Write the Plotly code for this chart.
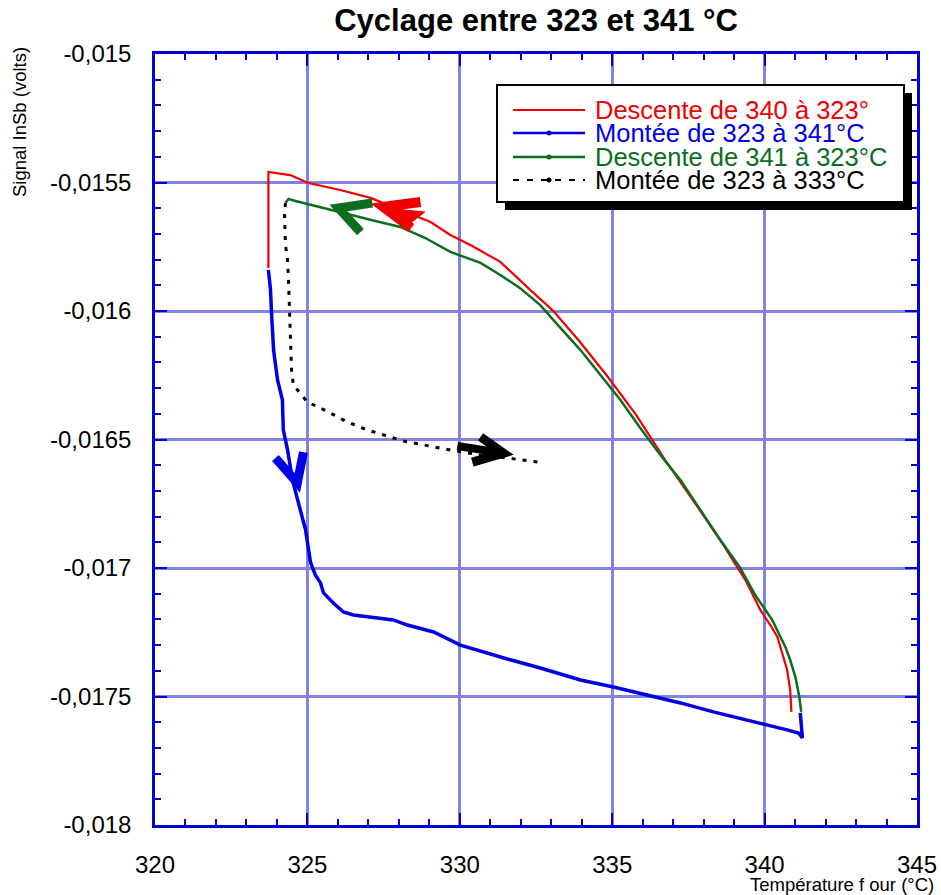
import plotly.graph_objects as go

# --- data: furnace temperature (°C) and InSb signal (V) ---
red_T = [340.88, 340.84, 340.74, 340.58, 340.42, 340.19, 339.86, 339.37, 338.65, 337.76,
         336.74, 335.79, 334.81, 333.89, 333.07, 332.31, 331.33, 330.35, 329.69, 329.04,
         328.05, 327.07, 326.08, 325.03, 324.44, 323.72, 323.72]
red_V = [-0.017560, -0.017475, -0.017397, -0.017331, -0.017268, -0.017222, -0.017163, -0.017047,
         -0.016911, -0.016755, -0.016580, -0.016405, -0.016249, -0.016113, -0.016000, -0.015918,
         -0.015809, -0.015743, -0.015704, -0.015654, -0.015607, -0.015560, -0.015529, -0.015502,
         -0.015471, -0.015459, -0.015833]

blue_T = [323.72, 323.79, 323.82, 323.89, 324.02, 324.18, 324.21, 324.35, 324.51, 324.67,
          324.77, 324.94, 325.10, 325.26, 325.43, 325.53, 325.85, 326.18, 326.51, 327.40,
          327.82, 328.28, 329.14, 330.02, 330.77, 331.56, 332.64, 333.96, 335.04, 336.15,
          337.24, 338.32, 339.43, 340.09, 340.74, 341.11, 341.24, 341.17]
blue_V = [-0.015840, -0.015918, -0.016000, -0.016152, -0.016268, -0.016346, -0.016463, -0.016541,
          -0.016658, -0.016735, -0.016774, -0.016852, -0.016977, -0.017027, -0.017058, -0.017097,
          -0.017136, -0.017171, -0.017183, -0.017195, -0.017202, -0.017222, -0.017249, -0.017300,
          -0.017327, -0.017354, -0.017389, -0.017436, -0.017463, -0.017494, -0.017525, -0.017560,
          -0.017591, -0.017611, -0.017630, -0.017642, -0.017661, -0.017564]

green_T = [341.20, 341.14, 341.01, 340.84, 340.68, 340.42, 340.25, 339.69, 339.20, 338.55,
           337.89, 337.24, 336.58, 335.92, 335.27, 334.61, 333.96, 333.30, 332.64, 331.98,
           331.33, 330.68, 330.02, 329.69, 328.87, 328.05, 327.23, 326.41, 325.59, 324.97,
           324.61, 324.38, 324.28]
green_V = [-0.017560, -0.017502, -0.017424, -0.017358, -0.017307, -0.017241, -0.017202, -0.017105,
           -0.017000, -0.016891, -0.016774, -0.016658, -0.016560, -0.016455, -0.016346, -0.016249,
           -0.016152, -0.016066, -0.015977, -0.015911, -0.015860, -0.015813, -0.015786, -0.015770,
           -0.015716, -0.015673, -0.015650, -0.015626, -0.015603, -0.015584, -0.015572, -0.015564,
           -0.015580]

black_T = [324.28, 324.25, 324.28, 324.35, 324.38, 324.41, 324.44, 324.48, 324.54, 325.00,
           325.69, 326.31, 326.97, 327.62, 328.15, 328.81, 329.69, 330.68, 331.56, 332.74]
black_V = [-0.015580, -0.015626, -0.015743, -0.015802, -0.015879, -0.015996, -0.016152, -0.016230,
           -0.016288, -0.016354, -0.016393, -0.016432, -0.016463, -0.016486, -0.016506, -0.016521,
           -0.016541, -0.016560, -0.016572, -0.016591]

series_names = ["Descente de 340 à 323°", "Montée de 323 à 341°C",
                "Descente de 341 à 323°C", "Montée de 323 à 333°C"]

x_tickvals = [320, 325, 330, 335, 340, 345]
x_ticktext = ["320", "325", "330", "335", "340", "345"]
y_tickvals = [-0.015, -0.0155, -0.016, -0.0165, -0.017, -0.0175, -0.018]
y_ticktext = ["-0,015", "-0,0155", "-0,016", "-0,0165", "-0,017", "-0,0175", "-0,018"]

RED = "#f00000"
BLUE = "#0000e6"
GREEN = "#0a6e1e"
BLACK = "#000000"
AXIS = "#0000d0"
GRID = "#8282e6"
FONT = "Arial, Liberation Sans, sans-serif"

W, H = 941, 895
ML, MR, MT, MB = 155, 24, 54, 70
PW, PH = W - ML - MR, H - MT - MB


def paper(px, py):
    """Page pixel position -> paper coordinates."""
    return (px - ML) / PW, (H - MB - py) / PH


fig = go.Figure()

fig.add_trace(go.Scatter(x=red_T, y=red_V, mode="lines", name=series_names[0],
                         line=dict(color=RED, width=2.2), showlegend=False))
fig.add_trace(go.Scatter(x=blue_T, y=blue_V, mode="lines", name=series_names[1],
                         line=dict(color=BLUE, width=3.5), showlegend=False))
fig.add_trace(go.Scatter(x=green_T, y=green_V, mode="lines", name=series_names[2],
                         line=dict(color=GREEN, width=2.5), showlegend=False))
fig.add_trace(go.Scatter(x=black_T, y=black_V, mode="lines", name=series_names[3],
                         line=dict(color=BLACK, width=3, dash="4px,7px"), showlegend=False))

shapes = []

# hand-drawn direction arrows (data coordinates)
arrows = [
    (RED, 10, [(328.71, -0.015576), (327.49, -0.015595), (328.41, -0.015677)]),
    (GREEN, 9, [(327.13, -0.015580), (326.02, -0.015599), (326.74, -0.015693)]),
    (BLUE, 9, [(323.95, -0.016572), (324.67, -0.016669), (324.87, -0.016549)]),
    (BLACK, 9, [(330.68, -0.016490), (331.43, -0.016553), (330.41, -0.016588)]),
]
for color, w, pts in arrows:
    path = "M " + " L ".join(f"{x},{y}" for x, y in pts)
    shapes.append(dict(type="path", xref="x", yref="y", path=path,
                       line=dict(color=color, width=w), layer="above"))
# shaft of the black arrow
shapes.append(dict(type="line", xref="x", yref="y", x0=329.92, y0=-0.016525,
                   x1=331.43, y1=-0.016553, line=dict(color=BLACK, width=8), layer="above"))
# wedge of the red arrow
shapes.append(dict(type="path", xref="x", yref="y",
                   path="M 327.6,-0.015600 L 328.85,-0.015615 L 328.3,-0.015665 Z",
                   fillcolor=RED, line=dict(color=RED, width=1), layer="above"))

# legend frame with drop shadow
sx0, sy0 = paper(505, 93)
sx1, sy1 = paper(912, 210)
shapes.append(dict(type="rect", xref="paper", yref="paper", x0=sx0, y0=sy1, x1=sx1, y1=sy0,
                   fillcolor="black", line=dict(width=0), layer="above"))
bx0, by0 = paper(497, 85)
bx1, by1 = paper(904, 202)
shapes.append(dict(type="rect", xref="paper", yref="paper", x0=bx0, y0=by1, x1=bx1, y1=by0,
                   fillcolor="white", line=dict(color="black", width=2), layer="above"))

legend_styles = [
    (RED, 2, "solid", False),
    (BLUE, 2.5, "solid", True),
    (GREEN, 2.5, "solid", True),
    (BLACK, 2, "6px,8px", True),
]
annotations = []
row_y = [110, 133, 157, 180]
for (color, w, dash, marker), name, ry in zip(legend_styles, series_names, row_y):
    lx0, ly = paper(513, ry)
    lx1, _ = paper(585, ry)
    shapes.append(dict(type="line", xref="paper", yref="paper", x0=lx0, y0=ly, x1=lx1, y1=ly,
                       line=dict(color=color, width=w, dash=dash), layer="above"))
    if marker:
        mx0, my0 = paper(546.5, ry - 2.5)
        mx1, my1 = paper(551.5, ry + 2.5)
        shapes.append(dict(type="circle", xref="paper", yref="paper", x0=mx0, y0=my1,
                           x1=mx1, y1=my0, fillcolor=color, line=dict(color=color, width=0),
                           layer="above"))
    tx, _ = paper(593, ry)
    annotations.append(dict(text=name, xref="paper", yref="paper", x=tx, y=ly,
                            xanchor="left", yanchor="middle", showarrow=False,
                            font=dict(family=FONT, size=25.5, color=color)))

ax, ay = paper(19, 122)
annotations.append(dict(text="Signal InSb (volts)", xref="paper", yref="paper", x=ax, y=ay,
                        textangle=-90, xanchor="center", yanchor="middle", showarrow=False,
                        font=dict(family=FONT, size=18.5, color="black")))
tx, ty = paper(936, 884)
annotations.append(dict(text="Température f our (°C)", xref="paper", yref="paper", x=tx, y=ty,
                        xanchor="right", yanchor="middle", showarrow=False,
                        font=dict(family=FONT, size=18.5, color="black")))

axis_common = dict(showline=True, linecolor=AXIS, linewidth=2.5, mirror="allticks",
                   ticks="inside", tickcolor=AXIS, tickwidth=2, ticklen=12,
                   showgrid=True, gridcolor=GRID, gridwidth=2.5, zeroline=False,
                   tickfont=dict(family=FONT, size=24, color="black"),
                   ticklabelstandoff=16, automargin=False)

fig.update_layout(
    width=W, height=H,
    margin=dict(l=ML, r=MR, t=MT, b=MB, autoexpand=False),
    paper_bgcolor="white", plot_bgcolor="white",
    title=dict(text="<b>Cyclage entre 323 et 341 °C</b>", x=0.5, xref="paper",
               y=1 - 20 / H, yanchor="middle",
               font=dict(family=FONT, size=31, color="black")),
    xaxis=dict(range=[320, 345], tickvals=x_tickvals, ticktext=x_ticktext,
               minor=dict(dtick=1, ticks="inside", ticklen=6, tickcolor=AXIS, tickwidth=2,
                          showgrid=False),
               **axis_common),
    yaxis=dict(range=[-0.018, -0.015], tickvals=y_tickvals, ticktext=y_ticktext,
               minor=dict(dtick=0.0001, tick0=-0.018, ticks="inside", ticklen=6, tickcolor=AXIS,
                          tickwidth=2, showgrid=False),
               **axis_common),
    shapes=shapes,
    annotations=annotations,
    showlegend=False,
)

fig.write_html("out.html")
